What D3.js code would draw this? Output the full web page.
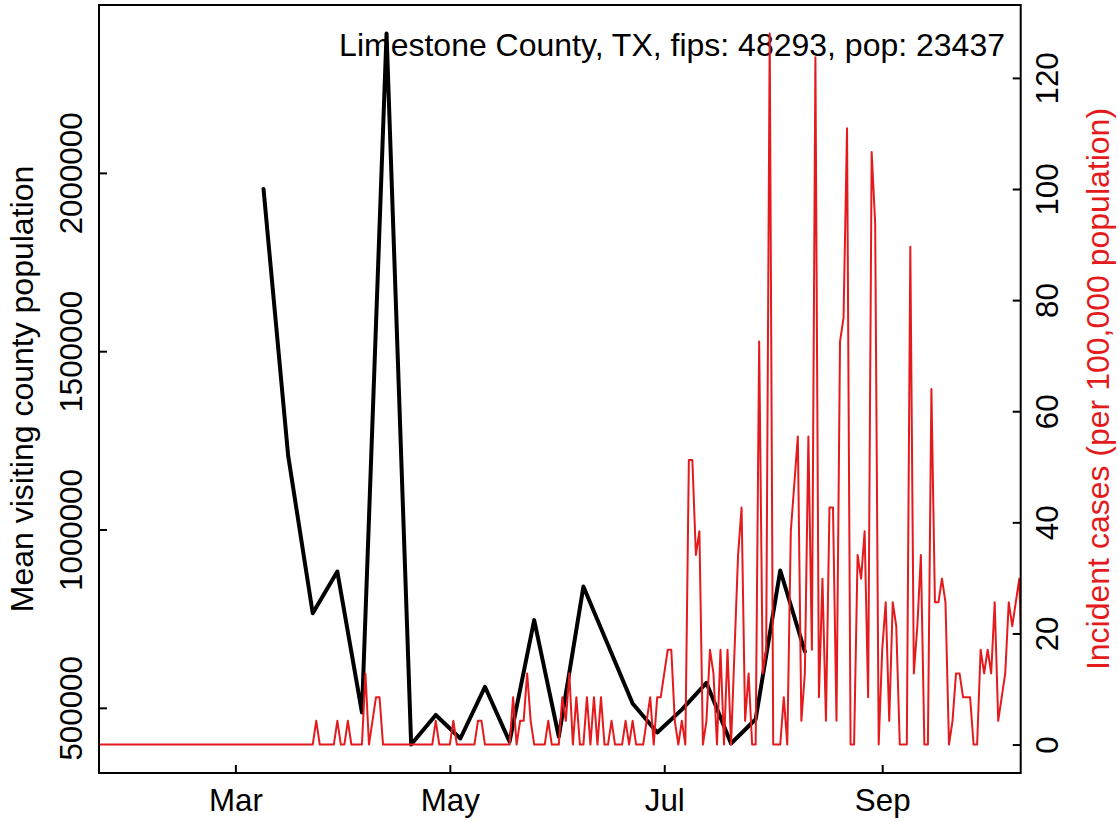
<!DOCTYPE html>
<html><head><meta charset="utf-8">
<script src="https://cdn.jsdelivr.net/npm/d3@7"></script>
<style>
body{margin:0;background:#fff}
svg{display:block}
text{font-family:"Liberation Sans",Arial,Helvetica,sans-serif}
</style>
</head><body>
<svg id="chart" width="1119" height="822"></svg>
<script>
// ---- data ----
const countyLabel = "Limestone County, TX, fips: 48293, pop: 23437";
const population = 23437;
const caseStartDate = "2020-01-22";
// daily incident cases from 2020-01-22 onward
const dailyCases = [
 0,0,0,0,0,0,0,0,0,0,
 0,0,0,0,0,0,0,0,0,0,
 0,0,0,0,0,0,0,0,0,0,
 0,0,0,0,0,0,0,0,0,0,
 0,0,0,0,0,0,0,0,0,0,
 0,0,0,0,0,0,0,0,0,0,
 0,0,1,0,0,0,0,0,1,0,
 0,1,0,0,0,0,3,0,1,2,
 2,0,0,0,0,0,0,0,0,0,
 0,0,0,0,0,0,1,0,0,0,
 0,1,0,0,0,0,0,0,1,1,
 0,0,0,0,0,0,0,0,2,0,
 1,1,3,1,0,0,0,0,1,0,
 0,0,2,1,3,0,2,0,0,2,
 0,2,0,2,0,0,1,0,0,0,
 1,0,1,0,0,0,1,2,0,2,
 2,3,4,4,1,0,1,0,12,12,
 8,9,0,1,4,3,0,4,0,4,
 0,4,8,10,1,3,0,0,17,3,
 4,30,0,0,0,2,0,9,11,13,
 1,3,13,4,29,2,7,1,10,10,
 1,17,18,26,0,0,8,7,9,2,
 25,22,0,4,6,1,6,5,0,0,
 0,21,3,5,8,0,0,15,6,6,
 7,6,0,1,3,3,2,2,2,0,
 0,4,3,4,3,6,1,2,3,6,
 5,6,7,2
];
const visitDates = [
 "2020-03-09","2020-03-16","2020-03-23","2020-03-30","2020-04-06","2020-04-13",
 "2020-04-20","2020-04-27","2020-05-04","2020-05-11","2020-05-18","2020-05-25",
 "2020-06-01","2020-06-08","2020-06-15","2020-06-22","2020-06-29","2020-07-06",
 "2020-07-13","2020-07-20","2020-07-27","2020-08-03","2020-08-10"
];
const visitValues = [
 1955000,1208000,765000,882000,487000,2391000,
 397000,480000,414000,559000,405000,746000,
 419000,840000,676000,512000,431000,495000,
 570000,400000,468000,885000,658000
];
const xTickDates = ["2020-03-01","2020-05-01","2020-07-01","2020-09-01"];
const xTickLabels = ["Mar","May","Jul","Sep"];
const leftTicks = [500000,1000000,1500000,2000000];
const rightTicks = [0,20,40,60,80,100,120];
const leftTitle = "Mean visiting county population";
const rightTitle = "Incident cases (per 100,000 population)";

// ---- layout ----
const W = 1119, H = 822;
const plot = {left: 99, right: 1020.7, top: 5, bottom: 773};
const FS = 31.3;
const FT = 32;
const RED = "#E41A1C";

const parse = d3.utcParse("%Y-%m-%d");
const start = parse(caseStartDate);
const incidence = dailyCases.map((c, i) => ({
  date: d3.utcDay.offset(start, i),
  value: c * 100000 / population
}));
const visits = visitDates.map((d, i) => ({date: parse(d), value: visitValues[i]}));

const x = d3.scaleUtc()
  .domain([new Date(Date.UTC(2020,0,22,4,48)), new Date(Date.UTC(2020,9,10,9,36))])
  .range([plot.left, plot.right]);

function rExtent(vals){
  const [a,b] = d3.extent(vals); const e = (b-a)*0.04; return [a-e, b+e];
}
const yL = d3.scaleLinear().domain(rExtent(visitValues)).range([plot.bottom, plot.top]);
const yR = d3.scaleLinear().domain(rExtent(incidence.map(d=>d.value))).range([plot.bottom, plot.top]);

const svg = d3.select("#chart");
svg.append("rect").attr("width",W).attr("height",H).attr("fill","#fff");

svg.append("defs").append("clipPath").attr("id","clip")
  .append("rect").attr("x",plot.left).attr("y",plot.top)
  .attr("width",plot.right-plot.left).attr("height",plot.bottom-plot.top);

// black line
svg.append("path").datum(visits)
  .attr("clip-path","url(#clip)")
  .attr("fill","none").attr("stroke","#000").attr("stroke-width",4)
  .attr("stroke-linejoin","round").attr("stroke-linecap","round")
  .attr("d", d3.line().x(d=>x(d.date)).y(d=>yL(d.value)));

// county label
svg.append("text").attr("x",1005).attr("y",56).attr("text-anchor","end")
  .attr("font-size",FT).attr("fill","#000").text(countyLabel);

// red line
svg.append("path").datum(incidence)
  .attr("clip-path","url(#clip)")
  .attr("fill","none").attr("stroke",RED).attr("stroke-width",2)
  .attr("stroke-linejoin","round")
  .attr("d", d3.line().x(d=>x(d.date)).y(d=>yR(d.value)));

// box
svg.append("rect").attr("x",plot.left).attr("y",plot.top)
  .attr("width",plot.right-plot.left).attr("height",plot.bottom-plot.top)
  .attr("fill","none").attr("stroke","#000").attr("stroke-width",2);

// bottom axis
const gx = svg.append("g").attr("transform",`translate(0,${plot.bottom})`)
  .call(d3.axisBottom(x).tickValues(xTickDates.map(parse))
    .tickFormat((d,i)=>xTickLabels[i]).tickSizeInner(-8).tickSizeOuter(0).tickPadding(16));
gx.select(".domain").remove();
gx.selectAll("line").attr("stroke-width",2);
gx.selectAll("text").attr("font-size",FS).attr("fill","#000").attr("font-family",null);

// left axis
const gl = svg.append("g").attr("transform",`translate(${plot.left},0)`)
  .call(d3.axisLeft(yL).tickValues(leftTicks).tickFormat(d3.format("d"))
    .tickSizeInner(-8).tickSizeOuter(0));
gl.select(".domain").remove();
gl.selectAll("line").attr("stroke-width",2);
gl.selectAll("text").attr("font-size",FS).attr("fill","#000").attr("font-family",null)
  .attr("transform","rotate(-90)").attr("x",0).attr("y",-17.5).attr("dy",null)
  .attr("text-anchor","middle");

// right axis
const gr = svg.append("g").attr("transform",`translate(${plot.right},0)`)
  .call(d3.axisRight(yR).tickValues(rightTicks).tickFormat(d3.format("d"))
    .tickSizeInner(-8).tickSizeOuter(0));
gr.select(".domain").remove();
gr.selectAll("line").attr("stroke-width",2);
gr.selectAll("text").attr("font-size",FS).attr("fill","#000").attr("font-family",null)
  .attr("transform","rotate(-90)").attr("x",0).attr("y",37.5).attr("dy",null)
  .attr("text-anchor","middle");

// axis titles
const midY = (plot.top + plot.bottom)/2;
svg.append("text").attr("transform",`translate(33,${midY}) rotate(-90)`)
  .attr("text-anchor","middle").attr("font-size",FT).attr("fill","#000").text(leftTitle);
svg.append("text").attr("transform",`translate(1109,${midY}) rotate(-90)`)
  .attr("text-anchor","middle").attr("font-size",FT).attr("fill",RED).text(rightTitle);
</script>
</body></html>
